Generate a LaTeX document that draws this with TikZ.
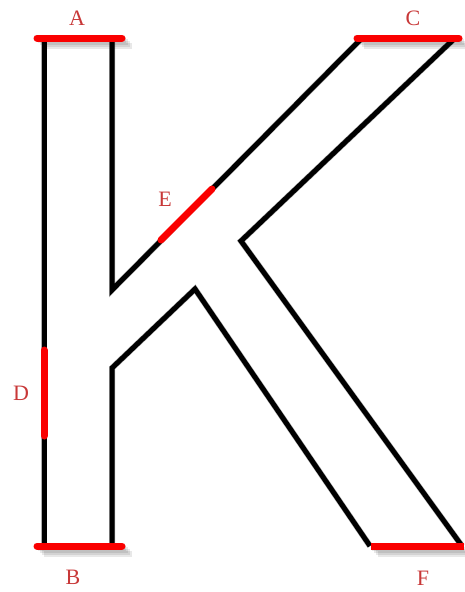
\documentclass[tikz,border=0pt]{standalone}
\usepackage{fontspec}
\setmainfont{Liberation Serif}
\definecolor{lbl}{RGB}{200,56,56}
\definecolor{redln}{RGB}{250,0,0}
\tikzset{
  edge/.style={line width=5pt, black, line join=miter, line cap=butt},
  mark line/.style={line width=7pt, redln, line cap=round},
  shadowln/.style={line width=6pt, black, opacity=0.09, line join=miter},
  lab/.style={text=lbl, font=\fontsize{22}{22}\selectfont, inner sep=0pt}
}
\begin{document}
\begin{tikzpicture}[x=1pt,y=-1pt]
\useasboundingbox (0,0) rectangle (464,592);
% key points
\coordinate (TL) at (44,38);
\coordinate (BL) at (44,546);
\coordinate (TR) at (112,38);
\coordinate (V1) at (112,290);
\coordinate (CL) at (362,38);
\coordinate (CR) at (455,38);
\coordinate (V2) at (241,241);
\coordinate (FR) at (462,546);
\coordinate (FL) at (370,546);
\coordinate (V3) at (195,289);
\coordinate (V4) at (112,368);
\coordinate (BR) at (112,546);
% shadows
\foreach \s in {2,4,6,8}{
  \begin{scope}[shift={(\s,\s)}]
    \draw[shadowln] (TL) -- (BL);
    \draw[shadowln] (TR) -- (V1) -- (CL);
    \draw[shadowln] (CR) -- (V2) -- (FR);
    \draw[shadowln] (FL) -- (V3) -- (V4) -- (BR);
    \draw[shadowln] (36,38) -- (124,38);
    \draw[shadowln] (36,546) -- (124,546);
    \draw[shadowln] (356,38) -- (460,38);
    \draw[shadowln] (370,546) -- (462,546);
  \end{scope}
}
% outline
\draw[edge] (TL) -- (BL);
\draw[edge] (TR) -- (V1) -- (CL);
\draw[edge] (CR) -- (V2) -- (FR);
\draw[edge] (FL) -- (V3) -- (V4) -- (BR);
% red marked segments
\coordinate (A1) at (37,38);
\coordinate (A2) at (122,38);
\coordinate (B1) at (37,546);
\coordinate (B2) at (122,546);
\coordinate (C1) at (357,38);
\coordinate (C2) at (459,38);
\coordinate (F1) at (371,546);
\coordinate (F2) at (464,546);
\coordinate (D1) at (44,350);
\coordinate (D2) at (44,436);
\coordinate (E1) at (161,240);
\coordinate (E2) at (212,189);
\draw[mark line] (A1) -- (A2);
\draw[mark line] (B1) -- (B2);
\draw[mark line] (C1) -- (C2);
\draw[mark line, line cap=butt] (F1) -- (F2);
\draw[mark line] (D1) -- (D2);
\draw[mark line] (E1) -- (E2);
% labels
\node[lab] (lA) at (77,18) {A};
\node[lab] (lB) at (73,577) {B};
\node[lab] (lC) at (413,18) {C};
\node[lab] (lD) at (21,393) {D};
\node[lab] (lE) at (165,199) {E};
\node[lab] (lF) at (423,578) {F};
\end{tikzpicture}
\end{document}
